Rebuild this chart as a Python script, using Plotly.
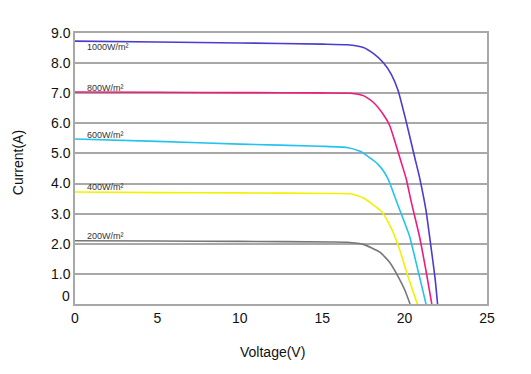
import plotly.graph_objects as go

# ---- data ----
v_1000 = [0, 5, 10, 15, 16.5, 17.5, 18.1, 18.7, 19.2, 19.6, 20.1, 20.6, 20.9, 21.3, 21.6, 21.85, 22.0]
i_1000 = [8.73, 8.70, 8.67, 8.63, 8.61, 8.52, 8.32, 8.02, 7.62, 7.10, 6.05, 4.90, 4.22, 3.10, 1.90, 0.85, 0.0]

v_800 = [0, 5, 10, 15, 16.7, 17.5, 18.1, 18.7, 19.1, 19.4, 19.8, 20.1, 20.4, 20.9, 21.3, 21.65]
i_800 = [7.04, 7.03, 7.02, 7.01, 7.00, 6.92, 6.70, 6.30, 5.92, 5.42, 4.70, 4.15, 3.40, 2.25, 1.10, 0.0]

v_600 = [0, 5, 10, 14.9, 16.5, 17.3, 17.9, 18.4, 18.8, 19.1, 19.4, 19.7, 20.3, 20.8, 21.3]
i_600 = [5.48, 5.40, 5.31, 5.24, 5.20, 5.07, 4.85, 4.63, 4.35, 4.02, 3.57, 3.13, 2.25, 1.14, 0.0]

v_400 = [0, 5, 10, 15.5, 16.7, 17.5, 18.6, 19.2, 19.7, 20.2, 20.77]
i_400 = [3.72, 3.70, 3.69, 3.67, 3.66, 3.52, 3.07, 2.50, 1.80, 0.92, 0.0]

v_200 = [0, 5, 10, 15.5, 16.5, 17.5, 18.5, 19.1, 19.6, 20.0, 20.33]
i_200 = [2.10, 2.09, 2.08, 2.06, 2.05, 1.98, 1.72, 1.38, 0.92, 0.48, 0.0]

series_names = ["1000W/m²", "800W/m²", "600W/m²", "400W/m²", "200W/m²"]
series_v = [v_1000, v_800, v_600, v_400, v_200]
series_i = [i_1000, i_800, i_600, i_400, i_200]
series_colors = ["#4b3ccf", "#ee1c7c", "#22c3ef", "#f4f000", "#777777"]
label_y = [8.54, 7.18, 5.60, 3.89, 2.25]

y_ticks = [1, 2, 3, 4, 5, 6, 7, 8, 9]
y_ticktext = ["1.0", "2.0", "3.0", "4.0", "5.0", "6.0", "7.0", "8.0", "9.0"]
x_ticks = [0, 5, 10, 15, 20, 25]

FONT = "Liberation Sans, Arial, sans-serif"

fig = go.Figure()
for name, v, i, c in zip(series_names, series_v, series_i, series_colors):
    fig.add_trace(go.Scatter(x=v, y=i, mode="lines", name=name,
                             line=dict(color=c, width=1.6, shape="spline", smoothing=0.5),
                             showlegend=False, hoverinfo="skip"))

for name, ly in zip(series_names, label_y):
    fig.add_annotation(x=0.6, y=ly, xref="x", yref="y", text=name, showarrow=False,
                       xanchor="left", yanchor="middle",
                       font=dict(family=FONT, size=9, color="#333333"))

# the "0" label sits a little above the baseline in the reference
fig.add_annotation(x=-0.008, y=0.25, xref="paper", yref="y", text="0", showarrow=False,
                   xanchor="right", yanchor="middle",
                   font=dict(family=FONT, size=14, color="#111111"))

fig.add_annotation(x=0.48, y=-0.14, xref="paper", yref="paper", text="Voltage(V)", showarrow=False,
                   xanchor="center", yanchor="top",
                   font=dict(family=FONT, size=14, color="#111111"))
fig.add_annotation(x=-0.138, y=0.52, xref="paper", yref="paper", text="Current(A)", showarrow=False,
                   xanchor="center", yanchor="middle", textangle=-90,
                   font=dict(family=FONT, size=14, color="#111111"))

fig.update_layout(
    width=515, height=358,
    margin=dict(l=67, r=36, t=25, b=62),
    paper_bgcolor="white", plot_bgcolor="white",
    font=dict(family=FONT, size=14, color="#111111"),
    xaxis=dict(range=[0, 25], tickvals=x_ticks, showgrid=False, zeroline=False,
               showline=True, mirror=True, linecolor="#a8a8a8", linewidth=1.5,
               ticks="", tickfont=dict(size=14, family=FONT)),
    yaxis=dict(range=[0, 9], tickvals=y_ticks, ticktext=y_ticktext, showgrid=True,
               gridcolor="#a8a8a8", gridwidth=1.5, zeroline=False,
               showline=True, mirror=True, linecolor="#a8a8a8", linewidth=1.5,
               ticks="", tickfont=dict(size=14, family=FONT)),
)

fig.write_html("out.html")
